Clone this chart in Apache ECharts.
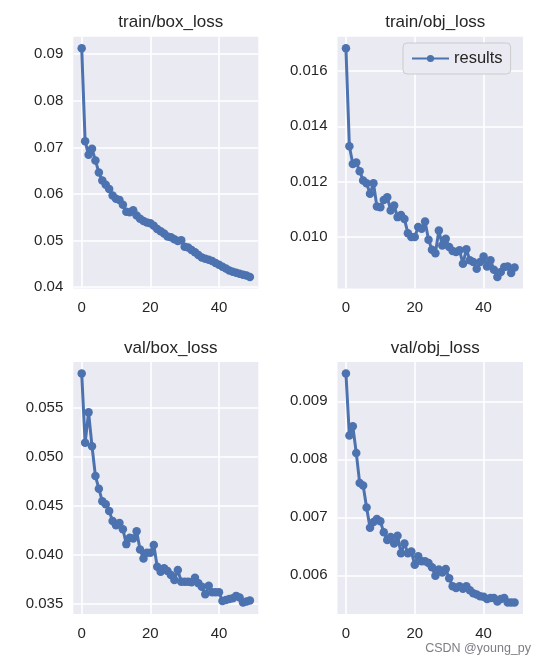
<!DOCTYPE html>
<html>
<head>
<meta charset="utf-8">
<script src="https://cdn.jsdelivr.net/npm/echarts@6/dist/echarts.min.js"></script>
<style>
html,body{margin:0;padding:0;background:#fff;}
#chart{width:540px;height:664px;}
</style>
</head>
<body>
<div id="chart"></div>
<script>
// ---- data ----
const panelTitles = ['train/box_loss', 'train/obj_loss', 'val/box_loss', 'val/obj_loss'];
const seriesName = 'results';
const xTicks = [0, 20, 40];

const trainBoxLoss = [0.0913,0.0713,0.0684,0.0697,0.0672,0.0646,0.0629,0.0620,0.0611,0.0597,
  0.0590,0.0587,0.0577,0.0562,0.0561,0.0565,0.0554,0.0547,0.0542,0.0539,
  0.0537,0.0532,0.0525,0.0520,0.0515,0.0509,0.0507,0.0503,0.0499,0.0501,
  0.0487,0.0485,0.0480,0.0475,0.0469,0.0464,0.0461,0.0459,0.0456,0.0452,
  0.0448,0.0444,0.0440,0.0436,0.0433,0.0431,0.0429,0.0427,0.0425,0.0422];
const trainObjLoss = [0.01682,0.01328,0.01264,0.01269,0.01238,0.01204,0.01194,0.01156,0.01194,0.01110,
  0.01108,0.01134,0.01144,0.01096,0.01114,0.01072,0.01080,0.01065,0.01014,0.01000,
  0.01000,0.01036,0.01030,0.01056,0.00990,0.00954,0.00942,0.01024,0.00970,0.00994,
  0.00964,0.00950,0.00946,0.00952,0.00904,0.00956,0.00916,0.00910,0.00886,0.00910,
  0.00930,0.00894,0.00916,0.00882,0.00856,0.00874,0.00892,0.00894,0.00870,0.00890];
const valBoxLoss = [0.05846,0.05138,0.05449,0.05104,0.04799,0.04671,0.04542,0.04511,0.04443,0.04341,
  0.04298,0.04321,0.04257,0.04105,0.04169,0.04162,0.04237,0.04051,0.03959,0.04017,
  0.04017,0.04095,0.03875,0.03824,0.03858,0.03831,0.03790,0.03739,0.03841,0.03722,
  0.03722,0.03722,0.03715,0.03763,0.03705,0.03671,0.03594,0.03680,0.03614,0.03614,
  0.03614,0.03526,0.03536,0.03546,0.03553,0.03577,0.03560,0.03509,0.03519,0.03529];
const valObjLoss = [0.00948,0.00841,0.00857,0.00811,0.00759,0.00755,0.00717,0.00682,0.00692,0.00697,
  0.00693,0.00674,0.00661,0.00666,0.00655,0.00668,0.00638,0.00655,0.00638,0.00641,
  0.00618,0.00633,0.00624,0.00624,0.00621,0.00614,0.00599,0.00610,0.00605,0.00611,
  0.00595,0.00581,0.00578,0.00581,0.00577,0.00581,0.00574,0.00569,0.00567,0.00564,
  0.00563,0.00559,0.00561,0.00561,0.00555,0.00559,0.00561,0.00553,0.00553,0.00553];

const yTicksTrainBox = [0.04, 0.05, 0.06, 0.07, 0.08, 0.09];
const yTicksTrainObj = [0.010, 0.012, 0.014, 0.016];
const yTicksValBox = [0.035, 0.040, 0.045, 0.050, 0.055];
const yTicksValObj = [0.006, 0.007, 0.008, 0.009];
const yDecimals = [2, 3, 3, 3];

// ---- chart ----
const panels = [trainBoxLoss, trainObjLoss, valBoxLoss, valObjLoss];
const yTicks = [yTicksTrainBox, yTicksTrainObj, yTicksValBox, yTicksValObj];
const FONT = '"Liberation Sans", Arial, sans-serif';
const TXT = '#262626';
const LINE = '#4C72B0';
const BG = '#EAEAF2';

const gridPos = [
  {left: 73.3, top: 36.7, width: 185, height: 251.7},
  {left: 337.5, top: 36.7, width: 185.5, height: 251.7},
  {left: 73.3, top: 362, width: 185, height: 252},
  {left: 337.5, top: 362, width: 185.5, height: 252}
];

const grids = gridPos.map(g => Object.assign({show: true, backgroundColor: BG, borderWidth: 0, containLabel: false}, g));

const xAxes = panels.map((d, i) => {
  const n = d.length - 1;
  const m = n * 0.05;
  return {
    type: 'value', gridIndex: i, min: -m, max: n + m,
    axisLine: {show: false},
    axisTick: {show: false, customValues: xTicks},
    axisLabel: {customValues: xTicks, color: TXT, fontSize: 15, fontFamily: FONT, margin: 12},
    splitLine: {show: true, lineStyle: {color: '#ffffff', width: 1.6}}
  };
});

const yAxes = panels.map((d, i) => {
  const lo = Math.min(...d), hi = Math.max(...d);
  const m = (hi - lo) * 0.05;
  return {
    type: 'value', gridIndex: i, min: lo - m, max: hi + m,
    axisLine: {show: false},
    axisTick: {show: false, customValues: yTicks[i]},
    axisLabel: {customValues: yTicks[i], color: TXT, fontSize: 15, fontFamily: FONT, margin: 10,
      formatter: v => v.toFixed(yDecimals[i])},
    splitLine: {show: true, lineStyle: {color: '#ffffff', width: 1.6}}
  };
});

const series = panels.map((d, i) => ({
  name: seriesName, type: 'line', xAxisIndex: i, yAxisIndex: i,
  data: d.map((v, k) => [k, v]),
  symbol: 'circle', symbolSize: 8.5, showAllSymbol: true,
  lineStyle: {color: LINE, width: 3},
  itemStyle: {color: LINE},
  emphasis: {disabled: true},
  animation: false
}));

const titles = panelTitles.map((t, i) => ({
  text: t,
  left: gridPos[i].left + gridPos[i].width / 2,
  top: i < 2 ? 9 : 335,
  textAlign: 'center',
  textStyle: {fontSize: 17, fontWeight: 'normal', color: TXT, fontFamily: FONT}
}));

const chart = echarts.init(document.getElementById('chart'), null, {renderer: 'canvas'});
chart.setOption({
  animation: false,
  backgroundColor: '#ffffff',
  title: titles,
  grid: grids,
  xAxis: xAxes,
  yAxis: yAxes,
  legend: {
    data: [seriesName], left: 403, top: 43,
    itemWidth: 37, itemHeight: 9, itemGap: 10,
    backgroundColor: BG, borderColor: '#CCCCCC', borderWidth: 1, borderRadius: 4,
    padding: [7, 8, 7, 8],
    textStyle: {fontSize: 16.5, color: TXT, fontFamily: FONT}
  },
  graphic: [{
    type: 'text', right: 9, bottom: 9,
    style: {text: 'CSDN @young_py', fontSize: 12.5, fill: 'rgba(110,110,120,0.9)', fontFamily: FONT}
  }],
  series: series
});
</script>
</body>
</html>
